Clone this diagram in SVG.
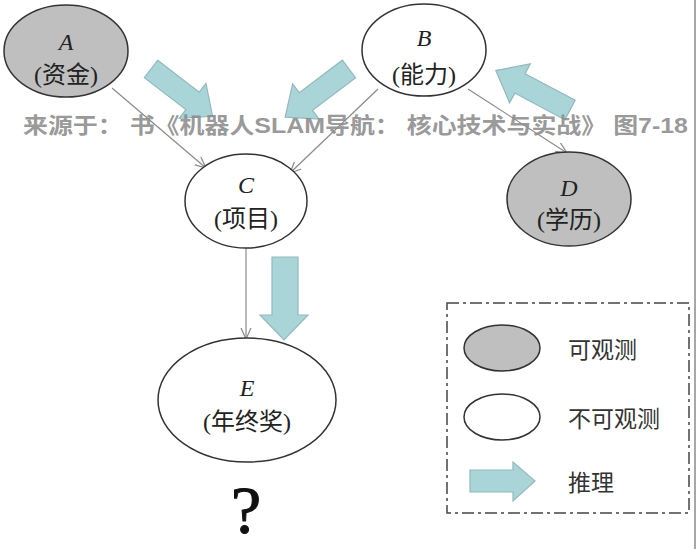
<svg xmlns="http://www.w3.org/2000/svg" width="697" height="549" viewBox="0 0 697 549">
<style>
.obs{fill:#bfbfbf;stroke:#333;stroke-width:1.5}
.hid{fill:#fff;stroke:#333;stroke-width:1.5}
.var{font-family:"Liberation Serif","Noto Sans CJK SC",serif;font-style:italic;font-size:24px;fill:#222;text-anchor:middle}
.lab{font-family:"Liberation Serif","Noto Sans CJK SC",serif;font-size:24px;fill:#222;text-anchor:middle}
.edge{stroke:#8a8a8a;stroke-width:1.2;fill:none}
.blk{fill:#a9d5d9;stroke:#93b9bc;stroke-width:1.2}
.leg{font-family:"Noto Sans CJK SC","Liberation Sans",sans-serif;font-size:23px;fill:#333}
</style>
<defs>
<marker id="ah" viewBox="0 0 12 12" refX="11" refY="6" markerWidth="12" markerHeight="12" markerUnits="userSpaceOnUse" orient="auto">
<path d="M0,1 L11,6 L0,11" fill="none" stroke="#8a8a8a" stroke-width="1.2"/>
</marker>
<path id="barrow" d="M0,-11 L54,-11 L54,-22 L80,0 L54,22 L54,11 L0,11 Z"/>
</defs>
<rect width="697" height="549" fill="#fff"/>
<line x1="695" y1="0" x2="695" y2="549" stroke="#8a8a8a" stroke-width="1.5"/>

<g id="connectors">
<line class="edge" x1="112" y1="88" x2="206" y2="168" marker-end="url(#ah)"/>
<line class="edge" x1="378" y1="89" x2="290" y2="173" marker-end="url(#ah)"/>
<line class="edge" x1="468" y1="89" x2="567" y2="153" marker-end="url(#ah)"/>
<line class="edge" x1="246" y1="248" x2="246" y2="339" marker-end="url(#ah)"/>
</g>

<g id="inference-arrows">
<use href="#barrow" class="blk" transform="translate(151,69) rotate(37.5) scale(0.97,1)"/>
<use href="#barrow" class="blk" transform="translate(349,69) rotate(143)"/>
<use href="#barrow" class="blk" transform="translate(570,110) rotate(208) scale(1.05,1)"/>
<path class="blk" d="M272,257 L298,257 L298,315 L308,315 L284,340 L260,315 L272,315 Z"/>
</g>

<g id="node-A">
<ellipse class="obs" cx="66" cy="51" rx="62" ry="46"/>
<text class="var" x="66" y="50">A</text>
<text class="lab" x="66" y="83">(资金)</text>
</g>
<g id="node-B">
<ellipse class="hid" cx="424" cy="50" rx="62" ry="46"/>
<text class="var" x="424" y="46">B</text>
<text class="lab" x="424" y="83">(能力)</text>
</g>
<g id="node-C">
<ellipse class="hid" cx="246" cy="201" rx="61" ry="47"/>
<text class="var" x="246" y="193">C</text>
<text class="lab" x="246" y="227">(项目)</text>
</g>
<g id="node-D">
<ellipse class="obs" cx="569" cy="199" rx="62" ry="47"/>
<text class="var" x="569" y="196">D</text>
<text class="lab" x="569" y="228">(学历)</text>
</g>
<g id="node-E">
<ellipse class="hid" cx="247" cy="400" rx="89" ry="62"/>
<text class="var" x="247" y="396">E</text>
<text class="lab" x="247" y="430">(年终奖)</text>
</g>
<text x="246" y="533" font-family="Liberation Serif, serif" font-size="68" fill="#111" stroke="#111" stroke-width="1" text-anchor="middle">?</text>

<g id="legend">
<rect x="447" y="303" width="242" height="210" fill="none" stroke="#444" stroke-width="1.5" stroke-dasharray="12,4,3,4"/>
<ellipse class="obs" cx="502" cy="348" rx="38" ry="23"/>
<text class="leg" x="568" y="358">可观测</text>
<ellipse class="hid" cx="502" cy="417" rx="38" ry="23"/>
<text class="leg" x="568" y="427">不可观测</text>
<path class="blk" d="M470,470 L513,470 L513,462 L535,481 L513,501 L513,492 L470,492 Z"/>
<text class="leg" x="568" y="491">推理</text>
</g>

<text x="23" y="133" font-family="Liberation Sans, Noto Sans CJK SC, sans-serif" font-weight="bold" font-size="22" fill="#8c8c8c" fill-opacity="0.9" textLength="665" lengthAdjust="spacingAndGlyphs">来源于： 书《机器人SLAM导航： 核心技术与实战》 图7-18</text>
</svg>
